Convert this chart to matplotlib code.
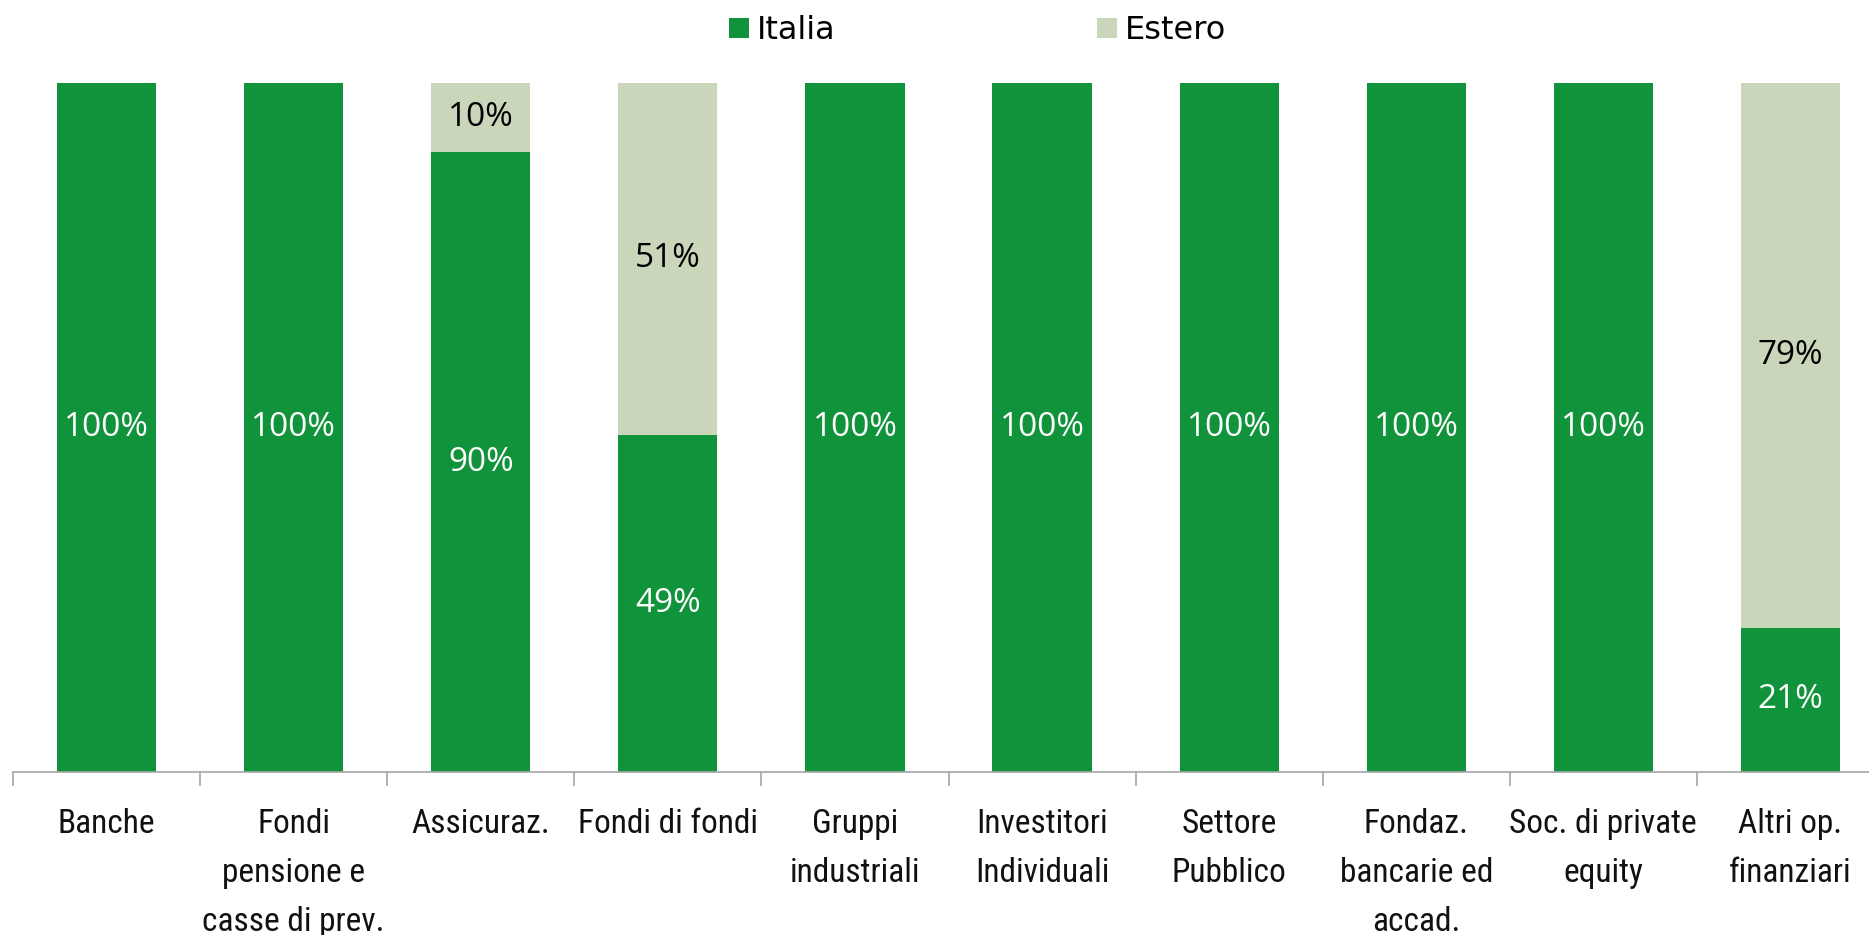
import numpy as np
import matplotlib
matplotlib.use("Agg")
import matplotlib.pyplot as plt

# categories and shares (percent)
categories = ["Banche", "Fondi\npensione e\ncasse di prev.", "Assicuraz.", "Fondi di fondi",
              "Gruppi\nindustriali", "Investitori\nIndividuali", "Settore\nPubblico",
              "Fondaz.\nbancarie ed\naccad.", "Soc. di private\nequity", "Altri op.\nfinanziari"]
italia = [100, 100, 90, 49, 100, 100, 100, 100, 100, 21]
estero = [0, 0, 10, 51, 0, 0, 0, 0, 0, 79]

GREEN = "#10933A"
LIGHT = "#C9D6BA"

plt.rcParams['font.family'] = ['Roboto Condensed', 'Liberation Sans Narrow', 'Roboto', 'DejaVu Sans']

fig = plt.figure(figsize=(18.69, 9.35), dpi=100)
ax = fig.add_axes([0.007, 0.174, 1.001, 0.737])

x = np.arange(len(categories))
b1 = ax.bar(x, italia, width=0.53, color=GREEN, label="Italia")
b2 = ax.bar(x, estero, width=0.53, bottom=italia, color=LIGHT, label="Estero")

# data labels
for i in range(len(x)):
    if italia[i] > 0:
        ax.text(x[i], italia[i] / 2, f"{italia[i]}%", ha="center", va="center",
                color="white", fontsize=24, family=['Open Sans', 'DejaVu Sans'])
    if estero[i] > 0:
        ax.text(x[i], italia[i] + estero[i] / 2, f"{estero[i]}%", ha="center", va="center",
                color="black", fontsize=24, family=['Open Sans', 'DejaVu Sans'])

ax.set_xlim(-0.5, len(x) - 0.5)
ax.set_ylim(0, 100)
ax.set_yticks([])
ax.set_xticks(x)
ax.set_xticklabels(categories, fontsize=24, linespacing=1.68, va="top", color="#111111")
ax.tick_params(axis="x", which="major", length=0, pad=26)
ax.set_xticks(np.arange(-0.5, len(x)), minor=True)
ax.tick_params(axis="x", which="minor", length=10, color="#A6A6A6", width=1.2)

for s in ["top", "left", "right"]:
    ax.spines[s].set_visible(False)
ax.spines["bottom"].set_color("#A6A6A6")
ax.spines["bottom"].set_linewidth(1.2)

fig.legend(handles=[b1, b2], loc="center", bbox_to_anchor=(0.523, 0.967), ncol=2,
           frameon=False, columnspacing=8.2, handlelength=0.62, handleheight=0.62,
           handletextpad=0.25, prop={'family': 'DejaVu Sans', 'size': 23})

fig.savefig("out.png", dpi=100)
